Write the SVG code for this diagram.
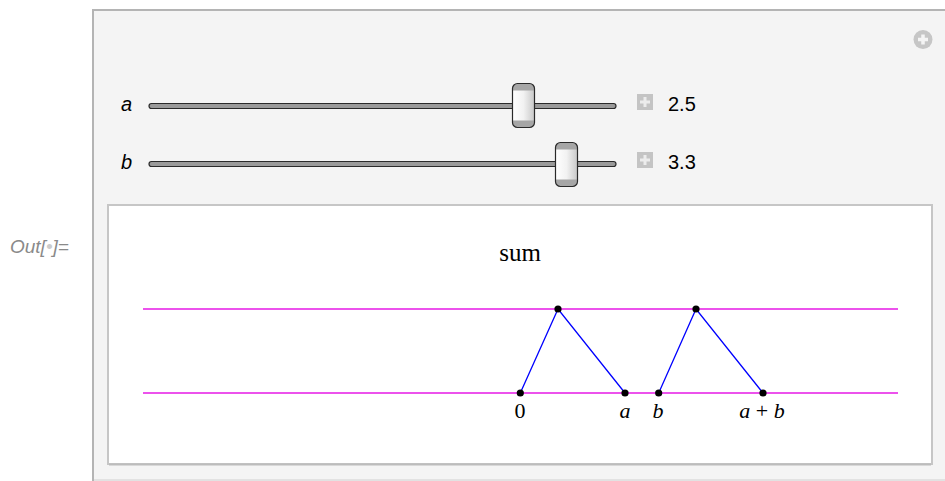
<svg xmlns="http://www.w3.org/2000/svg" width="945" height="481" viewBox="0 0 945 481">
  <style>
    .lbl { font-family: "Liberation Sans", Arial, sans-serif; font-size: 20px; fill: #000; }
    .ital { font-style: italic; }
    .serif { font-family: "Liberation Serif", "Times New Roman", serif; fill: #000; }
    .track { fill: #9a9a9a; stroke: #2a2a2a; stroke-width: 1.2; }
    .plusbox { fill: #c4c4c4; }
    .plus { stroke: #ececec; stroke-width: 3; }
    .guide { stroke: #e619e6; stroke-width: 1.5; }
    .edge { stroke: #0000ff; stroke-width: 1.3; fill: none; }
    .pt { fill: #000; }
  </style>
  <defs>
    <linearGradient id="thumbGrad" x1="0" y1="0" x2="1" y2="0">
      <stop offset="0" stop-color="#ffffff"/>
      <stop offset="0.5" stop-color="#f2f2f2"/>
      <stop offset="1" stop-color="#c8c8c8"/>
    </linearGradient>
    <g id="thumb">
      <rect x="0.5" y="0.5" width="22" height="44" rx="5" fill="url(#thumbGrad)"/>
      <path d="M0.5,5.5 a5,5 0 0 1 5,-5 h12 a5,5 0 0 1 5,5 v2 h-22 z" fill="#a6a6a6"/>
      <path d="M0.5,39.5 a5,5 0 0 0 5,5 h12 a5,5 0 0 0 5,-5 v-2 h-22 z" fill="#a6a6a6"/>
      <rect x="0.5" y="0.5" width="22" height="44" rx="5" fill="none" stroke="#2a2a2a" stroke-width="1.2"/>
    </g>
    <g id="plusIcon">
      <rect class="plusbox" x="0" y="0" width="16" height="16"/>
      <line class="plus" x1="3" y1="8" x2="13" y2="8"/>
      <line class="plus" x1="8" y1="3" x2="8" y2="13"/>
    </g>
  </defs>

  <rect width="945" height="481" fill="#ffffff"/>

  <g id="outLabel">
    <text x="10" y="253" font-family="'Liberation Sans', Arial, sans-serif" font-size="19" font-style="italic" fill="#8a8a8a">Out[<tspan fill="#cccccc">•</tspan>]=</text>
  </g>

  <g id="panel">
    <rect x="93" y="10" width="900" height="470" fill="#f4f4f4" stroke="#b4b4b4" stroke-width="2"/>
    <line x1="94" y1="480" x2="945" y2="480" stroke="#e2e2e2" stroke-width="2"/>
    <circle cx="923" cy="39.5" r="9.5" fill="#c6c6c6"/>
    <line x1="918" y1="39.5" x2="928" y2="39.5" stroke="#f4f4f4" stroke-width="3.5"/>
    <line x1="923" y1="34.5" x2="923" y2="44.5" stroke="#f4f4f4" stroke-width="3.5"/>
  </g>

  <g id="sliderA">
    <text class="lbl ital" x="121" y="111">a</text>
    <rect class="track" x="149" y="103.5" width="467" height="5" rx="2.5"/>
    <use href="#thumb" x="512" y="83"/>
    <use href="#plusIcon" x="637" y="94"/>
    <text class="lbl" x="668" y="111">2.5</text>
  </g>

  <g id="sliderB">
    <text class="lbl ital" x="121" y="169">b</text>
    <rect class="track" x="149" y="161.5" width="467" height="5" rx="2.5"/>
    <use href="#thumb" x="555" y="142"/>
    <use href="#plusIcon" x="637" y="152"/>
    <text class="lbl" x="668" y="169">3.3</text>
  </g>

  <g id="plot">
    <rect x="108" y="205" width="824" height="259" fill="#ffffff" stroke="#c6c6c6" stroke-width="2"/>
    <line x1="109" y1="464.5" x2="931" y2="464.5" stroke="#bcbcbc" stroke-width="2"/>
    <text class="serif" x="520" y="261" font-size="25" text-anchor="middle">sum</text>
  </g>

  <g id="connectors">
    <line class="guide" x1="143" y1="309" x2="898" y2="309"/>
    <line class="guide" x1="143" y1="393" x2="898" y2="393"/>
    <polyline class="edge" points="520.3,393 558,309 625,393"/>
    <polyline class="edge" points="658.7,393 696,309 763,393"/>
  </g>

  <g id="points">
    <circle class="pt" cx="520.3" cy="393" r="3.6"/>
    <circle class="pt" cx="558" cy="309" r="3.6"/>
    <circle class="pt" cx="625" cy="393" r="3.6"/>
    <circle class="pt" cx="658.7" cy="393" r="3.6"/>
    <circle class="pt" cx="696" cy="309" r="3.6"/>
    <circle class="pt" cx="763" cy="393" r="3.6"/>
  </g>

  <g id="tickLabels">
    <text class="serif" x="520" y="418" font-size="22" text-anchor="middle">0</text>
    <text class="serif" x="625" y="418" font-size="22" font-style="italic" text-anchor="middle">a</text>
    <text class="serif" x="658" y="418" font-size="22" font-style="italic" text-anchor="middle">b</text>
    <text class="serif" x="762" y="418" font-size="22" text-anchor="middle"><tspan font-style="italic">a</tspan> + <tspan font-style="italic">b</tspan></text>
  </g>
</svg>
